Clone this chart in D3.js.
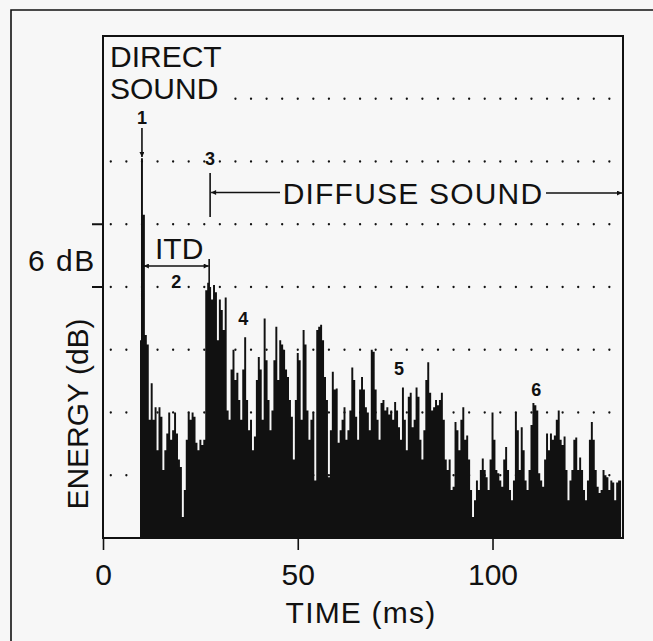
<!DOCTYPE html>
<html>
<head>
<meta charset="utf-8">
<script src="https://cdn.jsdelivr.net/npm/d3@7"></script>
<style>
  html, body { margin: 0; padding: 0; background: #f7f7f7; }
  svg { display: block; }
  text { font-family: "Liberation Sans", Arial, sans-serif; fill: #111; }
</style>
</head>
<body>
<svg id="chart" width="653" height="641"></svg>
<script>
// ---- data ----
const tStart = 9.5;          // ms, first sample
const tStep = 0.5;           // ms between samples
const energyDb = [
  18.9, 36.3, 30.9, 19.4, 18.5, 11.3, 14.8, 11.3, 12.5, 8.4,
  12.5, 11.6, 6.5, 8.4, 10.0, 12.0, 9.4, 10.3, 12.0, 10.0,
  7.5, 6.8, 2.0, 4.6, 9.4, 12.0, 11.3, 12.0, 11.6, 9.1,
  8.4, 9.4, 8.9, 9.4, 23.7, 24.4, 24.0, 22.8, 24.2, 23.5,
  18.9, 22.8, 21.8, 19.9, 23.0, 12.2, 11.3, 16.1, 18.0, 15.1,
  15.8, 13.2, 11.3, 16.1, 19.2, 13.2, 10.3, 11.3, 8.4, 9.7,
  15.1, 17.3, 16.1, 11.3, 21.0, 17.0, 13.2, 10.3, 12.2, 17.0,
  20.2, 15.1, 18.9, 18.5, 18.0, 16.1, 15.4, 13.2, 11.6, 7.5,
  13.2, 17.7, 17.0, 11.3, 19.9, 18.5, 12.2, 9.4, 11.3, 12.0,
  5.5, 19.9, 20.2, 20.4, 18.9, 15.4, 13.2, 5.8, 10.3, 15.9,
  14.2, 14.3, 9.1, 10.3, 11.3, 12.5, 9.4, 10.3, 12.2, 16.3,
  15.1, 11.6, 9.4, 14.2, 15.4, 14.2, 12.5, 12.0, 10.3, 18.0,
  17.8, 14.2, 11.3, 9.4, 12.9, 13.2, 12.2, 12.5, 11.8, 12.2,
  11.3, 13.0, 12.2, 10.6, 9.4, 14.4, 11.3, 8.4, 13.5, 13.9,
  10.6, 11.3, 14.4, 13.5, 9.4, 7.5, 10.3, 15.1, 16.8, 13.9,
  12.2, 12.5, 13.2, 12.7, 13.2, 13.9, 11.3, 7.5, 6.5, 7.5,
  4.6, 4.9, 11.1, 10.3, 8.4, 11.3, 12.5, 9.4, 9.8, 7.5,
  4.6, 2.0, 3.6, 5.5, 4.6, 6.5, 7.6, 6.5, 5.8, 4.6,
  7.5, 12.0, 9.4, 6.5, 6.2, 5.5, 4.9, 7.5, 8.7, 6.5,
  4.6, 3.6, 5.5, 12.0, 10.3, 6.5, 10.6, 8.4, 5.5, 4.6,
  6.5, 10.8, 12.9, 12.7, 12.2, 6.2, 5.5, 4.9, 7.5, 10.0,
  8.4, 10.0, 9.4, 9.8, 11.3, 12.2, 9.4, 8.9, 9.7, 6.5,
  3.6, 5.5, 6.5, 9.4, 9.6, 6.5, 7.7, 6.5, 4.6, 3.6,
  5.5, 9.4, 11.1, 9.4, 6.5, 4.9, 4.3, 4.6, 6.5, 6.0,
  5.8, 4.6, 5.5, 5.3, 3.6, 5.3, 5.5, 5.5
];
const xTicks = [0, 50, 100];
const gridDb = [6, 12, 18, 24, 30, 36, 42];
const gridDotStartMs = [2, 2, 2, 2, 2, 2, 34];   // where each dotted line begins
const gridDotStepMs = 4;
const gridDotEndMs = 130;
const sixDbTicks = [24, 30];                        // bracket for the "6 dB" scale mark
const eventNums = ["1", "2", "3", "4", "5", "6"];
const eventTimes = [10.0, 18.8, 27.5, 36.0, 76.0, 111.2];  // ms, label centre
const eventDb = [39.6, 23.9, 35.7, 20.4, 15.6, 13.6];       // dB, label baseline
const itdMs = [10.5, 27.0];
const diffuseMs = [27.5, 133.5];

// ---- layout ----
const svg = d3.select("#chart");
const x = d3.scaleLinear().domain([0, 133.5]).range([103, 623]);
const y = d3.scaleLinear().domain([0, 48]).range([538, 36]);
const ink = "#111";

// outer scanned frame (top + left only)
svg.append("path").attr("d", "M11,641 L11,10 L653,10")
  .attr("fill", "none").attr("stroke", ink).attr("stroke-width", 1.6);

// dotted grid
gridDb.forEach((db, i) => {
  const pts = d3.range(gridDotStartMs[i], gridDotEndMs + 0.01, gridDotStepMs);
  svg.append("g").selectAll("circle").data(pts).join("circle")
    .attr("cx", d => x(d)).attr("cy", y(db)).attr("r", 1.15).attr("fill", ink);
});

// energy-time curve
const pts = energyDb.map((v, i) => ({ t: tStart + i * tStep, v }));
const area = d3.area().x(d => x(d.t)).y0(y(0)).y1(d => y(d.v)).curve(d3.curveStep);
svg.append("path").datum(pts).attr("d", area).attr("fill", ink);

// plot box
svg.append("rect").attr("x", x(0)).attr("y", y(48)).attr("width", x(133.5) - x(0)).attr("height", y(0) - y(48))
  .attr("fill", "none").attr("stroke", ink).attr("stroke-width", 2);

// x axis ticks and labels
const xAxis = d3.axisBottom(x).tickValues(xTicks).tickSize(12).tickPadding(14).tickFormat(d3.format("d"));
const gx = svg.append("g").attr("transform", `translate(0,${y(0)})`).call(xAxis);
gx.select(".domain").remove();
gx.selectAll(".tick line").attr("stroke", ink).attr("stroke-width", 1.6);
gx.selectAll(".tick text").attr("font-size", 30).attr("fill", ink)
  .style("font-family", "'Liberation Sans', Arial, sans-serif");

// 6 dB ticks on left
svg.append("g").selectAll("line").data(sixDbTicks).join("line")
  .attr("x1", x(0) - 11).attr("x2", x(0)).attr("y1", d => y(d)).attr("y2", d => y(d))
  .attr("stroke", ink).attr("stroke-width", 2);

// axis titles
svg.append("text").attr("x", 361).attr("y", 623).attr("text-anchor", "middle")
  .attr("font-size", 30).attr("letter-spacing", 1.2).text("TIME (ms)");
svg.append("text").attr("transform", "translate(88,414) rotate(-90)").attr("text-anchor", "middle")
  .attr("font-size", 30).text("ENERGY (dB)");
svg.append("text").attr("x", 28).attr("y", 271).attr("font-size", 30).attr("letter-spacing", 1.5).text("6 dB");

// annotations
svg.append("text").attr("x", 110).attr("y", 67).attr("font-size", 30).text("DIRECT");
svg.append("text").attr("x", 110).attr("y", 99).attr("font-size", 30).text("SOUND");
svg.append("text").attr("x", 155).attr("y", 259).attr("font-size", 30).text("ITD");
svg.append("text").attr("x", 413).attr("y", 204).attr("text-anchor", "middle")
  .attr("font-size", 30).attr("letter-spacing", 1.2).text("DIFFUSE SOUND");

svg.append("g").selectAll("text").data(eventNums).join("text")
  .attr("x", (d, i) => x(eventTimes[i])).attr("y", (d, i) => y(eventDb[i]))
  .attr("text-anchor", "middle").attr("font-size", 18).attr("font-weight", "bold").text(d => d);

// arrowheads
const defs = svg.append("defs");
defs.append("marker").attr("id", "ah").attr("viewBox", "0 0 10 10").attr("refX", 10).attr("refY", 5)
  .attr("markerWidth", 8).attr("markerHeight", 5).attr("markerUnits", "userSpaceOnUse").attr("orient", "auto-start-reverse")
  .append("path").attr("d", "M0,0 L10,5 L0,10 Z").attr("fill", ink);

function line(x1, y1, x2, y2, start, end) {
  const l = svg.append("line").attr("x1", x1).attr("y1", y1).attr("x2", x2).attr("y2", y2)
    .attr("stroke", ink).attr("stroke-width", 1.6);
  if (start) l.attr("marker-start", "url(#ah)");
  if (end) l.attr("marker-end", "url(#ah)");
  return l;
}
// direct sound arrow
line(x(10.0), 128, x(10.0), 157, false, true);
// ITD
line(x(itdMs[0]), 266, x(itdMs[1]) + 0.5, 266, true, true);
line(x(itdMs[1]) + 1, 259, x(itdMs[1]) + 1, 288, false, false);
// diffuse sound
line(x(diffuseMs[0]), 173, x(diffuseMs[0]), 217, false, false);
line(x(diffuseMs[0]) + 1, 192.5, 280, 192.5, true, false);
line(546, 193, x(diffuseMs[1]) - 1, 193, false, true);
</script>
</body>
</html>
